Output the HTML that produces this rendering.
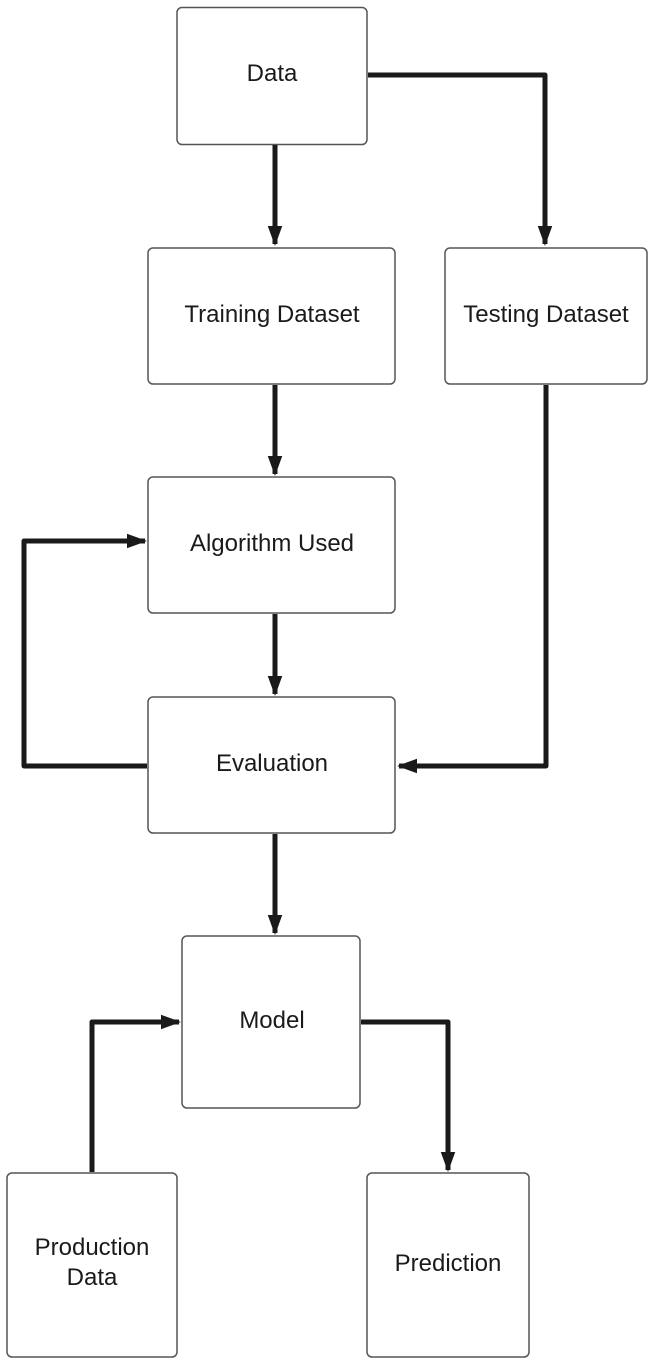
<!DOCTYPE html>
<html><head><style>
html,body{margin:0;padding:0;background:#fff;}
</style></head><body>
<svg width="656" height="1368" xmlns="http://www.w3.org/2000/svg" style="display:block">
<defs><marker id="a" markerWidth="4" markerHeight="4" refX="3.6" refY="2" orient="auto" markerUnits="strokeWidth"><path d="M0,0.55 L4,2 L0,3.45 z" fill="#1a1a1a"/></marker></defs>
<g fill="#fff" stroke="#555" stroke-width="1.5">
<rect x="177" y="7.5" width="190" height="137" rx="5"/>
<rect x="148" y="248" width="247" height="136" rx="5"/>
<rect x="445" y="248" width="202" height="136" rx="5"/>
<rect x="148" y="477" width="247" height="136" rx="5"/>
<rect x="148" y="697" width="247" height="136" rx="5"/>
<rect x="182" y="936" width="178" height="172" rx="5"/>
<rect x="7" y="1173" width="170" height="184" rx="5"/>
<rect x="367" y="1173" width="162" height="184" rx="5"/>
</g>
<g fill="none" stroke="#1a1a1a" stroke-width="5" stroke-linejoin="round" marker-end="url(#a)">
<path d="M275,145 V244"/>
<path d="M368,75 H545 V244"/>
<path d="M275,385 V474"/>
<path d="M546,385 V766 H399"/>
<path d="M275,614 V694"/>
<path d="M147,766 H24 V541 H145"/>
<path d="M275,834 V933"/>
<path d="M361,1022 H448 V1170"/>
<path d="M92,1172 V1022 H179"/>
</g>
<g font-family="Liberation Sans, sans-serif" font-size="24" fill="#1a1a1a" text-anchor="middle">
<text x="272" y="81">Data</text>
<text x="272" y="322">Training Dataset</text>
<text x="546" y="322">Testing Dataset</text>
<text x="272" y="551">Algorithm Used</text>
<text x="272" y="771">Evaluation</text>
<text x="272" y="1028">Model</text>
<text x="92" y="1255">Production</text>
<text x="92" y="1285">Data</text>
<text x="448" y="1271">Prediction</text>
</g>
</svg>
</body></html>
